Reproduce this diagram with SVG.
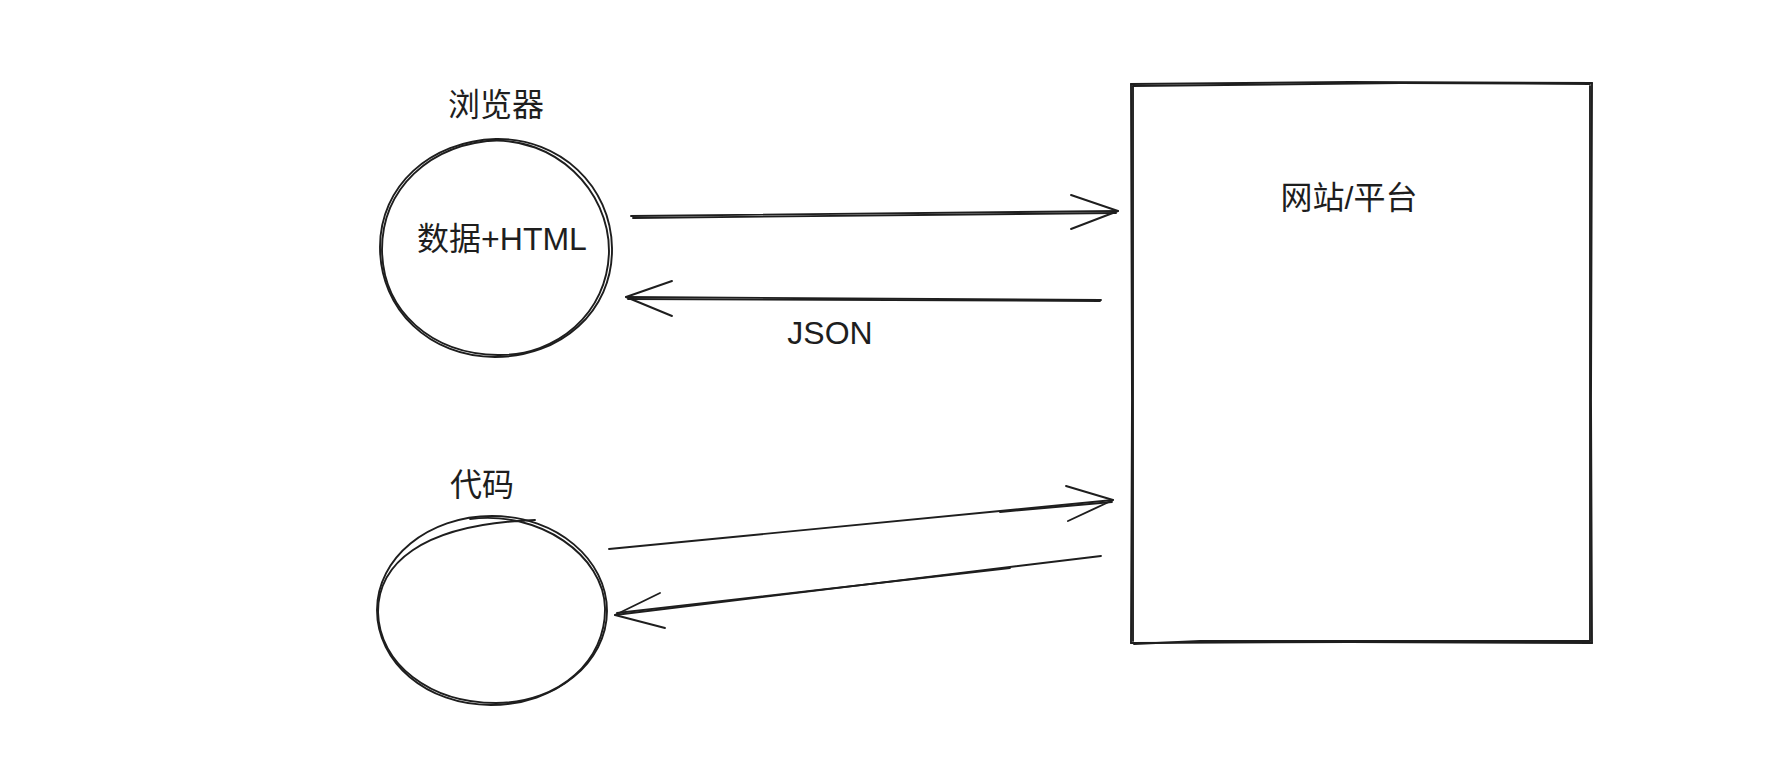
<svg xmlns="http://www.w3.org/2000/svg" width="1776" height="758" viewBox="0 0 1776 758">
<style>
.s{fill:none;stroke:#1e1e1e;stroke-width:1.9;stroke-linecap:round;stroke-linejoin:round}
.t{font-family:"Liberation Sans","Noto Sans CJK SC",sans-serif;font-size:32px;fill:#1e1e1e;text-anchor:middle}
</style>
<rect width="1776" height="758" fill="#ffffff"/>
<g id="browser">
<text class="t" x="496" y="116">浏览器</text>
<path class="s" d="M496,139 C560,138 611,186 612,248 C613,312 560,357 495,357 C430,357 380,310 380,247 C380,186 430,141 496,139"/>
<path class="s" d="M488,141 C555,136 609,190 609,251 C608,314 556,356 498,355 C432,354 383,312 382,250 C382,190 428,143 500,140"/>
<text class="t" x="502" y="250">数据+HTML</text>
</g>
<g id="code">
<text class="t" x="482" y="496">代码</text>
<path class="s" d="M492,516 C557,516 607,560 607,611 C607,662 556,705 491,705 C426,705 377,662 377,610 C377,558 428,516 492,516"/>
<path class="s" d="M470,519 C540,510 604,556 605,608 C606,660 560,703 496,703 C430,703 379,664 378,612 C378,566 418,524 535,520"/>
</g>
<g id="platform">
<path class="s" d="M1131,84 L1350,82 L1592,83"/>
<path class="s" d="M1133,86 L1400,83 L1590,84"/>
<path class="s" d="M1592,83 L1591,400 L1592,643"/>
<path class="s" d="M1590,86 L1590,420 L1590,641"/>
<path class="s" d="M1592,643 L1350,642 L1131,643"/>
<path class="s" d="M1590,641 L1200,641 L1134,644"/>
<path class="s" d="M1131,643 L1132,400 L1131,84"/>
<path class="s" d="M1133,641 L1133,350 L1133,86"/>
<text class="t" x="1349" y="209">网站/平台</text>
</g>
<g id="connectors">
<path class="s" d="M631,216 L1118,211"/>
<path class="s" d="M633,218 L1116,213"/>
<path class="s" d="M1071,195 L1118,211 L1071,229"/>
<path class="s" d="M1101,300 L626,297"/>
<path class="s" d="M1100,301 L628,299"/>
<path class="s" d="M672,281 L626,297 L672,316"/>
<text class="t" x="830" y="344">JSON</text>
<path class="s" d="M609,549 L1113,500"/>
<path class="s" d="M1000,512 L1112,502"/>
<path class="s" d="M1066,486 L1113,500 L1068,521"/>
<path class="s" d="M1101,556 L615,615"/>
<path class="s" d="M1010,568 L617,613"/>
<path class="s" d="M660,593 L615,615 L665,628"/>
</g>
</svg>
